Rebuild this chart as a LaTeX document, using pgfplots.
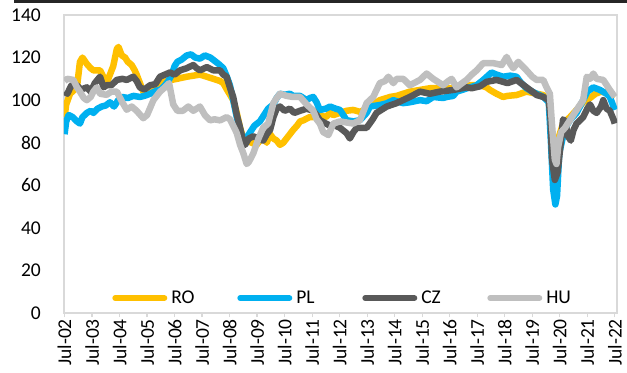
\documentclass[border=0pt]{standalone}
\usepackage{pgfplots}
\pgfplotsset{compat=1.18}
\usepackage{fontspec}
\setmainfont{Carlito}

\definecolor{roC}{HTML}{FFC000}
\definecolor{plC}{HTML}{00B0F0}
\definecolor{czC}{HTML}{595959}
\definecolor{huC}{HTML}{BFBFBF}
\definecolor{frameC}{HTML}{D9D9D9}
\definecolor{barC}{HTML}{262626}

\newcommand{\lblfont}{\fontsize{19.5bp}{23bp}\selectfont}

\begin{document}
\begin{tikzpicture}
\begin{axis}[
  name=ax,
  scale only axis,
  width=553bp, height=298bp,
  xmin=2002.48, xmax=2022.58,
  ymin=0, ymax=140,
  ytick={0,20,...,140},
  xtick={2002.5,2003.5,...,2022.5},
  xticklabels={Jul-02,Jul-03,Jul-04,Jul-05,Jul-06,Jul-07,Jul-08,Jul-09,Jul-10,Jul-11,Jul-12,Jul-13,Jul-14,Jul-15,Jul-16,Jul-17,Jul-18,Jul-19,Jul-20,Jul-21,Jul-22},
  axis line style={frameC, line width=1.6bp},
  xtick pos=left,
  tick align=outside,
  major tick length=4bp,
  xtick style={frameC, line width=1.3bp},
  ytick style={draw=none},
  /pgf/number format/assume math mode=true,
  tick label style={font=\lblfont, text=black},
  yticklabel style={inner xsep=0pt, xshift=-19bp},
  xticklabel style={rotate=90, anchor=east, inner xsep=2pt},
  legend columns=4,
  legend style={draw=none, fill=none, inner sep=0pt, font=\lblfont,
    at={(0.087,0.05)}, anchor=west,
    nodes={inner xsep=4bp},
    /tikz/every even column/.append style={column sep=32bp}},
  legend image code/.code={\draw[#1, line width=6bp, line cap=round] (3bp,0bp) -- (52bp,0bp);},
  every axis plot/.append style={line width=6.5bp, line join=round, mark=none},
]
% Romania
\addplot[roC] coordinates {
(2002.50,92) (2002.56,98) (2002.70,103) (2002.95,106) (2003.06,118) (2003.15,120) (2003.31,117) (2003.45,115) (2003.55,114) (2003.79,114) (2003.95,110) (2004.03,108) (2004.15,112) (2004.27,116) (2004.40,124) (2004.46,125) (2004.58,121) (2004.70,120) (2004.80,118) (2004.94,116.5) (2005.05,114) (2005.12,112) (2005.24,108) (2005.36,104) (2005.49,105) (2005.61,106) (2005.97,108) (2006.20,109) (2006.58,110) (2006.94,111) (2007.18,111.5) (2007.42,112) (2007.67,111) (2007.91,110) (2008.15,109) (2008.27,108) (2008.40,105) (2008.63,100) (2008.76,94) (2008.88,87) (2009.00,82) (2009.12,81) (2009.30,80) (2009.48,79) (2009.60,81) (2009.72,83) (2009.85,80) (2009.97,84) (2010.09,82) (2010.21,81) (2010.33,79) (2010.45,80) (2010.57,82) (2010.69,84) (2010.81,86) (2010.95,88) (2011.06,90) (2011.18,90.5) (2011.40,92) (2011.54,92) (2011.66,94) (2011.78,93) (2012.00,92) (2012.15,94) (2012.27,93) (2012.51,94) (2012.75,95) (2012.99,95.4) (2013.24,94.5) (2013.48,96) (2013.72,98) (2013.96,100) (2014.21,101) (2014.33,101.5) (2014.57,102) (2014.81,103) (2015.05,104) (2015.42,104.8) (2015.78,105.6) (2016.26,105.6) (2016.63,105.6) (2017.00,106) (2017.23,107) (2017.60,107) (2017.84,106) (2017.96,104.8) (2018.20,103) (2018.44,101.5) (2018.60,102) (2018.93,102.4) (2019.29,104) (2019.66,103) (2019.90,102.4) (2020.10,100) (2020.20,85) (2020.30,75) (2020.40,80) (2020.62,89) (2020.87,92) (2021.11,95.4) (2021.35,99) (2021.60,101) (2021.80,103) (2022.00,104) (2022.32,103) (2022.50,101.5)
};
\addlegendentry{\makebox[30bp][l]{RO}}
% Poland
\addplot[plC] coordinates {
(2002.50,84) (2002.56,90) (2002.65,93) (2002.80,92) (2002.95,90) (2003.06,89) (2003.15,92) (2003.31,94) (2003.45,95) (2003.55,94) (2003.70,96) (2003.85,97) (2004.00,97.5) (2004.15,99) (2004.30,97) (2004.45,100) (2004.60,101.5) (2004.80,101) (2005.00,102) (2005.24,101.5) (2005.40,102) (2005.61,103) (2005.85,104.5) (2006.00,105) (2006.15,107) (2006.27,109) (2006.40,112) (2006.50,116) (2006.60,118) (2006.75,119) (2006.94,121) (2007.10,121.5) (2007.25,120) (2007.42,119.5) (2007.60,121) (2007.80,120) (2007.95,118.5) (2008.10,117) (2008.27,115) (2008.40,111) (2008.51,107) (2008.63,100) (2008.76,92) (2008.88,86) (2009.00,81) (2009.10,82) (2009.25,85) (2009.40,88) (2009.60,90) (2009.75,93) (2009.90,96) (2010.09,98) (2010.21,101) (2010.33,103) (2010.50,102.5) (2010.69,103) (2010.81,102) (2011.06,102) (2011.30,100) (2011.42,101) (2011.54,101.5) (2011.66,99) (2011.78,95.4) (2012.00,96) (2012.15,97) (2012.35,96) (2012.51,95.4) (2012.75,90.6) (2013.00,90) (2013.24,90.6) (2013.48,94) (2013.60,97) (2013.96,97.7) (2014.21,98.5) (2014.45,100) (2014.69,99) (2014.81,98.6) (2015.05,99) (2015.42,100) (2015.66,99.5) (2015.90,101.5) (2016.26,101) (2016.39,101.5) (2016.63,102) (2016.75,104) (2017.00,105) (2017.23,106) (2017.48,107) (2017.72,109.5) (2018.02,113) (2018.20,112) (2018.44,111) (2018.70,111.5) (2018.93,111) (2019.10,108) (2019.29,105.6) (2019.50,104) (2019.66,103) (2019.90,101.5) (2020.10,99) (2020.18,80) (2020.26,58) (2020.34,51) (2020.40,55) (2020.48,75) (2020.62,83) (2020.75,88) (2020.87,90.6) (2021.11,94) (2021.35,100) (2021.50,104) (2021.72,106) (2021.96,104.8) (2022.20,103) (2022.32,101.5) (2022.50,95.4)
};
\addlegendentry{\makebox[30bp][l]{PL}}
% Czech Republic
\addplot[czC] coordinates {
(2002.50,104) (2002.60,103) (2002.75,107) (2002.94,107) (2003.10,105) (2003.31,106) (2003.45,104) (2003.60,108) (2003.79,111) (2003.92,106) (2004.03,107) (2004.20,107) (2004.40,109.5) (2004.60,110) (2004.76,109.5) (2005.00,111) (2005.12,109) (2005.24,106) (2005.40,105) (2005.61,107) (2005.80,107.5) (2005.97,111) (2006.15,112) (2006.33,113) (2006.50,112) (2006.70,114) (2006.94,115) (2007.18,116.5) (2007.30,115) (2007.42,114) (2007.67,115.5) (2007.91,114) (2008.15,114) (2008.27,112) (2008.39,111) (2008.51,106) (2008.63,101.5) (2008.76,93) (2008.88,87) (2009.00,80) (2009.06,79) (2009.20,82) (2009.36,83) (2009.55,82) (2009.72,81) (2009.85,84) (2009.97,86) (2010.09,92) (2010.21,96) (2010.33,97) (2010.50,95) (2010.69,96) (2010.85,94) (2011.06,95) (2011.30,96) (2011.54,95) (2011.66,93) (2011.78,90.6) (2012.00,89) (2012.15,88) (2012.35,88) (2012.51,87) (2012.75,84.5) (2012.87,82) (2013.00,85) (2013.12,87) (2013.30,87) (2013.48,87) (2013.70,91) (2013.84,94) (2014.21,97) (2014.57,98.6) (2014.80,100) (2015.05,101.5) (2015.42,104) (2015.78,103) (2016.14,104) (2016.63,104.8) (2017.11,106) (2017.30,105.6) (2017.60,106.5) (2017.84,108.6) (2018.20,109.5) (2018.44,108.6) (2018.60,108) (2018.93,109.5) (2019.29,106) (2019.50,104) (2019.66,102.4) (2019.90,101.5) (2020.10,100) (2020.16,92) (2020.22,72) (2020.32,62.5) (2020.42,66) (2020.52,78) (2020.62,91) (2020.69,90) (2020.80,83) (2020.90,81) (2021.00,86) (2021.11,89) (2021.35,92) (2021.50,96) (2021.60,98) (2021.72,95) (2021.84,94) (2022.00,97) (2022.08,100) (2022.20,96) (2022.32,95) (2022.45,91) (2022.50,89)
};
\addlegendentry{\makebox[30bp][l]{CZ}}
% Hungary
\addplot[huC] coordinates {
(2002.50,109) (2002.60,110) (2002.82,109.5) (2002.95,106) (2003.06,104) (2003.20,101) (2003.31,100) (2003.45,101.5) (2003.55,104) (2003.67,106) (2003.79,103) (2004.03,102.5) (2004.20,104) (2004.40,104) (2004.60,99) (2004.76,95.5) (2004.94,97) (2005.12,95) (2005.36,91.5) (2005.50,93) (2005.73,100) (2005.97,104) (2006.15,106) (2006.30,108) (2006.45,98) (2006.60,95) (2006.80,95) (2007.00,97) (2007.18,95) (2007.42,97) (2007.60,93) (2007.79,90.5) (2007.95,91) (2008.15,90.5) (2008.39,92) (2008.51,91) (2008.63,88) (2008.76,84.5) (2008.88,79) (2009.00,75) (2009.12,70) (2009.20,71) (2009.36,75) (2009.55,82) (2009.72,87) (2009.90,89) (2010.09,98.6) (2010.21,101) (2010.33,103) (2010.57,102) (2010.80,101.5) (2011.06,101.5) (2011.30,98) (2011.54,95) (2011.66,91) (2011.78,89) (2011.90,85) (2012.09,83.6) (2012.27,89) (2012.51,90) (2012.75,89.5) (2012.99,89) (2013.24,90.6) (2013.48,98.6) (2013.72,101.5) (2013.96,108) (2014.15,109) (2014.27,111) (2014.45,108) (2014.57,110) (2014.81,110) (2015.05,107) (2015.42,109.5) (2015.66,112.5) (2015.90,110) (2016.14,108) (2016.26,107) (2016.45,109) (2016.57,110) (2016.75,106) (2016.95,108) (2017.11,109.5) (2017.30,112) (2017.48,114) (2017.72,117.4) (2018.08,117.4) (2018.39,116.5) (2018.57,120.3) (2018.70,117) (2018.81,115) (2018.99,118) (2019.29,114) (2019.50,111) (2019.66,109.5) (2019.90,109.5) (2020.02,106) (2020.14,103) (2020.22,88) (2020.32,72) (2020.38,70) (2020.44,78) (2020.55,85) (2020.69,87) (2020.87,90.6) (2021.11,95.4) (2021.35,100) (2021.48,111) (2021.60,110) (2021.72,112.5) (2021.84,110) (2022.08,109.5) (2022.32,104.8) (2022.50,101.5)
};
\addlegendentry{\makebox[30bp][l]{HU}}
\end{axis}
% dark rule along the top edge
\fill[barC] ([shift={(-50bp,12bp)}]ax.north west) rectangle ([shift={(10bp,15bp)}]ax.north east);
\pgfresetboundingbox
\path ([shift={(-64bp,-60bp)}]ax.south west) rectangle ([shift={(10bp,15bp)}]ax.north east);
\end{tikzpicture}
\end{document}
